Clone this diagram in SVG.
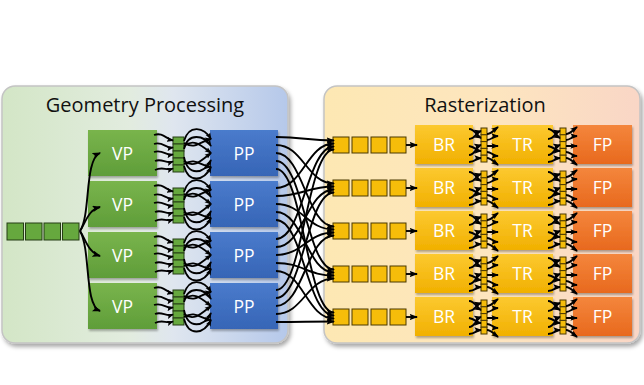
<svg xmlns="http://www.w3.org/2000/svg" xmlns:xlink="http://www.w3.org/1999/xlink" width="644" height="385" viewBox="0 0 644 385">
  <defs>
    <linearGradient id="gGeo" x1="0" y1="0" x2="1" y2="0">
      <stop offset="0" stop-color="#d3e6c6"/>
      <stop offset="0.45" stop-color="#e2ecdf"/>
      <stop offset="0.6" stop-color="#dfe6ef"/>
      <stop offset="1" stop-color="#b5c8ea"/>
    </linearGradient>
    <linearGradient id="gRas" x1="0" y1="0" x2="1" y2="0">
      <stop offset="0" stop-color="#fde8b3"/>
      <stop offset="0.55" stop-color="#fde5bf"/>
      <stop offset="1" stop-color="#f9d6c6"/>
    </linearGradient>
    <linearGradient id="gGreen" x1="0" y1="0" x2="0" y2="1">
      <stop offset="0" stop-color="#79b44c"/>
      <stop offset="1" stop-color="#5f9d39"/>
    </linearGradient>
    <linearGradient id="gBlue" x1="0" y1="0" x2="0" y2="1">
      <stop offset="0" stop-color="#4a7bcc"/>
      <stop offset="1" stop-color="#3665b6"/>
    </linearGradient>
    <linearGradient id="gYellow" x1="0" y1="0" x2="0" y2="1">
      <stop offset="0" stop-color="#fcc930"/>
      <stop offset="1" stop-color="#f1b000"/>
    </linearGradient>
    <linearGradient id="gOrange" x1="0" y1="0" x2="0" y2="1">
      <stop offset="0" stop-color="#f4863c"/>
      <stop offset="1" stop-color="#e8691e"/>
    </linearGradient>
    <filter id="panelShadow" x="-5%" y="-5%" width="112%" height="115%">
      <feDropShadow dx="2" dy="3" stdDeviation="2" flood-color="#000" flood-opacity="0.35"/>
    </filter>
    <filter id="boxShadow" x="-10%" y="-10%" width="125%" height="130%">
      <feDropShadow dx="1" dy="2" stdDeviation="1.2" flood-color="#000" flood-opacity="0.3"/>
    </filter>
    <marker id="ah" viewBox="0 0 8 6" refX="7" refY="3" markerWidth="8.5" markerHeight="6.5" markerUnits="userSpaceOnUse" orient="auto">
      <path d="M0,0 L8,3 L0,6 L1.5,3 z" fill="#000"/>
    </marker>
    <marker id="ahs" viewBox="0 0 8 6" refX="7" refY="3" markerWidth="7" markerHeight="6" markerUnits="userSpaceOnUse" orient="auto">
      <path d="M0,0 L8,3 L0,6 L1.5,3 z" fill="#000"/>
    </marker>
    <marker id="ahr" viewBox="0 0 8 6" refX="7" refY="3" markerWidth="7.5" markerHeight="6.5" markerUnits="userSpaceOnUse" orient="auto">
      <path d="M0,0 L8,3 L0,6 L1.5,3 z" fill="#000"/>
    </marker>
    <style>
      .title { font-family: "Open Sans", "Liberation Sans", sans-serif; font-size: 20px; fill: #111; text-anchor: middle; }
      .lbl { font-family: "Open Sans", "Liberation Sans", sans-serif; font-size: 17.5px; fill: #fff; text-anchor: middle; }
      .vp { fill: url(#gGreen); filter: url(#boxShadow); }
      .pp { fill: url(#gBlue); filter: url(#boxShadow); }
      .ylw { fill: url(#gYellow); filter: url(#boxShadow); }
      .org { fill: url(#gOrange); filter: url(#boxShadow); }
      .gq { fill: #66a83e; stroke: #253d14; stroke-width: 1; }
      .yq { fill: #f6bd0a; stroke: #4a3800; stroke-width: 1; }
      .c { fill: none; stroke: #000; stroke-width: 1.9; marker-end: url(#ah); }
      .cs { fill: none; stroke: #000; stroke-width: 1.8; marker-end: url(#ahs); }
      .cr { fill: none; stroke: #000; stroke-width: 2; marker-end: url(#ahr); }
    </style>
    <!-- VP -> small queue -> PP link bundle (drawn for the first row) -->
    <g id="vpLink">
      <path class="cs" d="M154,135 C163,132 166,139 173,140.5"/>
      <path class="cs" d="M154,144 C163,141 166,149 173,147.5"/>
      <path class="cs" d="M154,152 C163,149 166,156 173,154.5"/>
      <path class="cs" d="M155,161 C162,158 166,164 173,161.5"/>
      <path class="cs" d="M155,170 C163,166 166,171 173,168.5"/>
      <path class="cs" d="M184,141 C189,124 204,127 211,139"/>
      <path class="cs" d="M184,149 C188,132 204,135 211,146"/>
      <path class="cs" d="M184,146 C194,138 202,146 211,153"/>
      <path class="cs" d="M184,161 C194,169 202,160 211,153"/>
      <path class="cs" d="M184,157 C188,177 204,174 211,160"/>
      <path class="cs" d="M184,166 C189,184 204,181 211,167"/>
      <path class="cs" d="M184,143 C196,150 200,141 211,139"/>
      <path class="cs" d="M184,164 C196,157 200,166 211,167"/>
    </g>
    <!-- queue link between two raster stages (drawn for the first row) -->
    <g id="rasLink">
      <path class="cr" d="M469,129 C475,129 477,136 481,138"/>
      <path class="cr" d="M469,139 C475,139 477,132 481,131"/>
      <path class="cr" d="M469,146 C475,147 477,151 481,151"/>
      <path class="cr" d="M469,155 C475,155 477,146 481,145"/>
      <path class="cr" d="M469,162 C475,162 477,158 481,158"/>
      <path class="cr" d="M487,134 C491,134 494,130 498,127"/>
      <path class="cr" d="M487,140 C491,140 494,136 498,136"/>
      <path class="cr" d="M487,146 C491,146 494,146 498,146"/>
      <path class="cr" d="M487,152 C491,152 494,156 498,156"/>
      <path class="cr" d="M487,158 C491,158 494,162 498,165"/>
    </g>
    <!-- narrow five-slot queues -->
    <g id="gSlot">
      <rect class="gq" x="173" y="137" width="11" height="7"/>
      <rect class="gq" x="173" y="144" width="11" height="7"/>
      <rect class="gq" x="173" y="151" width="11" height="7"/>
      <rect class="gq" x="173" y="158" width="11" height="7"/>
      <rect class="gq" x="173" y="165" width="11" height="7"/>
    </g>
    <g id="ySlot">
      <rect class="yq" x="481" y="128" width="6" height="6.8"/>
      <rect class="yq" x="481" y="134.8" width="6" height="6.8"/>
      <rect class="yq" x="481" y="141.6" width="6" height="6.8"/>
      <rect class="yq" x="481" y="148.4" width="6" height="6.8"/>
      <rect class="yq" x="481" y="155.2" width="6" height="6.8"/>
    </g>
    <g id="yQueue">
      <rect class="yq" x="333" y="137" width="16" height="16"/>
      <rect class="yq" x="352" y="137" width="16" height="16"/>
      <rect class="yq" x="371" y="137" width="16" height="16"/>
      <rect class="yq" x="390" y="137" width="16" height="16"/>
    </g>
  </defs>

  <rect width="644" height="385" fill="#fff"/>

  <!-- panels -->
  <g id="panel-geometry">
    <rect x="2" y="86" width="286" height="257" rx="13" fill="url(#gGeo)" stroke="#c4c4c4" stroke-width="1.5" filter="url(#panelShadow)"/>
    <text class="title" x="145" y="112">Geometry Processing</text>
  </g>
  <g id="panel-raster">
    <rect x="324" y="86" width="316" height="257" rx="13" fill="url(#gRas)" stroke="#c4c4c4" stroke-width="1.5" filter="url(#panelShadow)"/>
    <text class="title" x="485" y="112">Rasterization</text>
  </g>

  <!-- input queue -->
  <g id="input-queue">
    <rect class="gq" x="7" y="223" width="16.5" height="17"/>
    <rect class="gq" x="25.5" y="223" width="16.5" height="17"/>
    <rect class="gq" x="44" y="223" width="16.5" height="17"/>
    <rect class="gq" x="62.5" y="223" width="16.5" height="17"/>
  </g>

  <!-- vertex processors -->
  <g id="vp1"><rect class="vp" x="88" y="130" width="69" height="46"/><text class="lbl" x="122.5" y="159.5">VP</text></g>
  <g id="vp2"><rect class="vp" x="88" y="181" width="69" height="46"/><text class="lbl" x="122.5" y="210.5">VP</text></g>
  <g id="vp3"><rect class="vp" x="88" y="232" width="69" height="46"/><text class="lbl" x="122.5" y="261.5">VP</text></g>
  <g id="vp4"><rect class="vp" x="88" y="283" width="69" height="46"/><text class="lbl" x="122.5" y="312.5">VP</text></g>

  <!-- primitive processors -->
  <g id="pp1"><rect class="pp" x="210" y="130" width="68" height="46"/><text class="lbl" x="244" y="159.5">PP</text></g>
  <g id="pp2"><rect class="pp" x="210" y="181" width="68" height="46"/><text class="lbl" x="244" y="210.5">PP</text></g>
  <g id="pp3"><rect class="pp" x="210" y="232" width="68" height="46"/><text class="lbl" x="244" y="261.5">PP</text></g>
  <g id="pp4"><rect class="pp" x="210" y="283" width="68" height="46"/><text class="lbl" x="244" y="312.5">PP</text></g>

  <!-- VP-to-PP queues -->
  <g id="vpq1"><use xlink:href="#gSlot"/></g>
  <g id="vpq2"><use xlink:href="#gSlot" transform="translate(0,51)"/></g>
  <g id="vpq3"><use xlink:href="#gSlot" transform="translate(0,102)"/></g>
  <g id="vpq4"><use xlink:href="#gSlot" transform="translate(0,153)"/></g>

  <!-- raster input queues -->
  <g id="rq1"><use xlink:href="#yQueue"/></g>
  <g id="rq2"><use xlink:href="#yQueue" transform="translate(0,43)"/></g>
  <g id="rq3"><use xlink:href="#yQueue" transform="translate(0,86)"/></g>
  <g id="rq4"><use xlink:href="#yQueue" transform="translate(0,129)"/></g>
  <g id="rq5"><use xlink:href="#yQueue" transform="translate(0,172)"/></g>

  <!-- bin rasterizers -->
  <g id="br1"><rect class="ylw" x="415" y="125" width="58" height="39"/><text class="lbl" x="444" y="151">BR</text></g>
  <g id="br2"><rect class="ylw" x="415" y="168" width="58" height="39"/><text class="lbl" x="444" y="194">BR</text></g>
  <g id="br3"><rect class="ylw" x="415" y="211" width="58" height="39"/><text class="lbl" x="444" y="237">BR</text></g>
  <g id="br4"><rect class="ylw" x="415" y="254" width="58" height="39"/><text class="lbl" x="444" y="280">BR</text></g>
  <g id="br5"><rect class="ylw" x="415" y="297" width="58" height="39"/><text class="lbl" x="444" y="323">BR</text></g>

  <!-- tile rasterizers -->
  <g id="tr1"><rect class="ylw" x="492" y="125" width="61" height="39"/><text class="lbl" x="522.5" y="151">TR</text></g>
  <g id="tr2"><rect class="ylw" x="492" y="168" width="61" height="39"/><text class="lbl" x="522.5" y="194">TR</text></g>
  <g id="tr3"><rect class="ylw" x="492" y="211" width="61" height="39"/><text class="lbl" x="522.5" y="237">TR</text></g>
  <g id="tr4"><rect class="ylw" x="492" y="254" width="61" height="39"/><text class="lbl" x="522.5" y="280">TR</text></g>
  <g id="tr5"><rect class="ylw" x="492" y="297" width="61" height="39"/><text class="lbl" x="522.5" y="323">TR</text></g>

  <!-- fragment processors -->
  <g id="fp1"><rect class="org" x="573" y="125" width="59" height="39"/><text class="lbl" x="602.5" y="151">FP</text></g>
  <g id="fp2"><rect class="org" x="573" y="168" width="59" height="39"/><text class="lbl" x="602.5" y="194">FP</text></g>
  <g id="fp3"><rect class="org" x="573" y="211" width="59" height="39"/><text class="lbl" x="602.5" y="237">FP</text></g>
  <g id="fp4"><rect class="org" x="573" y="254" width="59" height="39"/><text class="lbl" x="602.5" y="280">FP</text></g>
  <g id="fp5"><rect class="org" x="573" y="297" width="59" height="39"/><text class="lbl" x="602.5" y="323">FP</text></g>

  <!-- inter-stage queues in the raster rows -->
  <g id="brq">
    <use xlink:href="#ySlot"/>
    <use xlink:href="#ySlot" transform="translate(0,43)"/>
    <use xlink:href="#ySlot" transform="translate(0,86)"/>
    <use xlink:href="#ySlot" transform="translate(0,129)"/>
    <use xlink:href="#ySlot" transform="translate(0,172)"/>
  </g>
  <g id="trq">
    <use xlink:href="#ySlot" transform="translate(79,0)"/>
    <use xlink:href="#ySlot" transform="translate(79,43)"/>
    <use xlink:href="#ySlot" transform="translate(79,86)"/>
    <use xlink:href="#ySlot" transform="translate(79,129)"/>
    <use xlink:href="#ySlot" transform="translate(79,172)"/>
  </g>

  <!-- connectors -->
  <g id="connectors">
    <!-- input fan-out -->
    <path class="c" d="M80,231 C91,215 84,160 100,153"/>
    <path class="c" d="M80,231 C86,222 88,210 100,207"/>
    <path class="c" d="M80,231 C86,240 88,252 100,256"/>
    <path class="c" d="M80,231 C91,250 84,305 100,311"/>

    <!-- VP to PP through queues -->
    <use xlink:href="#vpLink"/>
    <use xlink:href="#vpLink" transform="translate(0,51)"/>
    <use xlink:href="#vpLink" transform="translate(0,102)"/>
    <use xlink:href="#vpLink" transform="translate(0,153)"/>

    <!-- PP crossbar to raster queues -->
    <path class="c" d="M276,137 C303,137 307,140.5 334,140.5"/>
    <path class="c" d="M276,145 C303,145 307,183.5 334,183.5"/>
    <path class="c" d="M276,153 C303,153 307,226.5 334,226.5"/>
    <path class="c" d="M276,161 C303,161 307,269.5 334,269.5"/>
    <path class="c" d="M276,169 C303,169 307,312.5 334,312.5"/>
    <path class="c" d="M276,188 C303,188 307,143.5 334,143.5"/>
    <path class="c" d="M276,196 C303,196 307,186.5 334,186.5"/>
    <path class="c" d="M276,204 C303,204 307,229.5 334,229.5"/>
    <path class="c" d="M276,212 C303,212 307,272.5 334,272.5"/>
    <path class="c" d="M276,220 C303,220 307,315.5 334,315.5"/>
    <path class="c" d="M276,239 C303,239 307,146.5 334,146.5"/>
    <path class="c" d="M276,247 C303,247 307,189.5 334,189.5"/>
    <path class="c" d="M276,255 C303,255 307,232.5 334,232.5"/>
    <path class="c" d="M276,263 C303,263 307,275.5 334,275.5"/>
    <path class="c" d="M276,271 C303,271 307,318.5 334,318.5"/>
    <path class="c" d="M276,290 C303,290 307,149.5 334,149.5"/>
    <path class="c" d="M276,298 C303,298 307,192.5 334,192.5"/>
    <path class="c" d="M276,306 C303,306 307,235.5 334,235.5"/>
    <path class="c" d="M276,314 C303,314 307,278.5 334,278.5"/>
    <path class="c" d="M276,322 C303,322 307,321.5 334,321.5"/>

    <!-- raster queues to BR -->
    <path class="c" d="M406,145 L417,145"/>
    <path class="c" d="M406,188 L417,188"/>
    <path class="c" d="M406,231 L417,231"/>
    <path class="c" d="M406,274 L417,274"/>
    <path class="c" d="M406,317 L417,317"/>

    <!-- BR to TR -->
    <use xlink:href="#rasLink"/>
    <use xlink:href="#rasLink" transform="translate(0,43)"/>
    <use xlink:href="#rasLink" transform="translate(0,86)"/>
    <use xlink:href="#rasLink" transform="translate(0,129)"/>
    <use xlink:href="#rasLink" transform="translate(0,172)"/>

    <!-- TR to FP -->
    <use xlink:href="#rasLink" transform="translate(79,0)"/>
    <use xlink:href="#rasLink" transform="translate(79,43)"/>
    <use xlink:href="#rasLink" transform="translate(79,86)"/>
    <use xlink:href="#rasLink" transform="translate(79,129)"/>
    <use xlink:href="#rasLink" transform="translate(79,172)"/>
  </g>
</svg>
